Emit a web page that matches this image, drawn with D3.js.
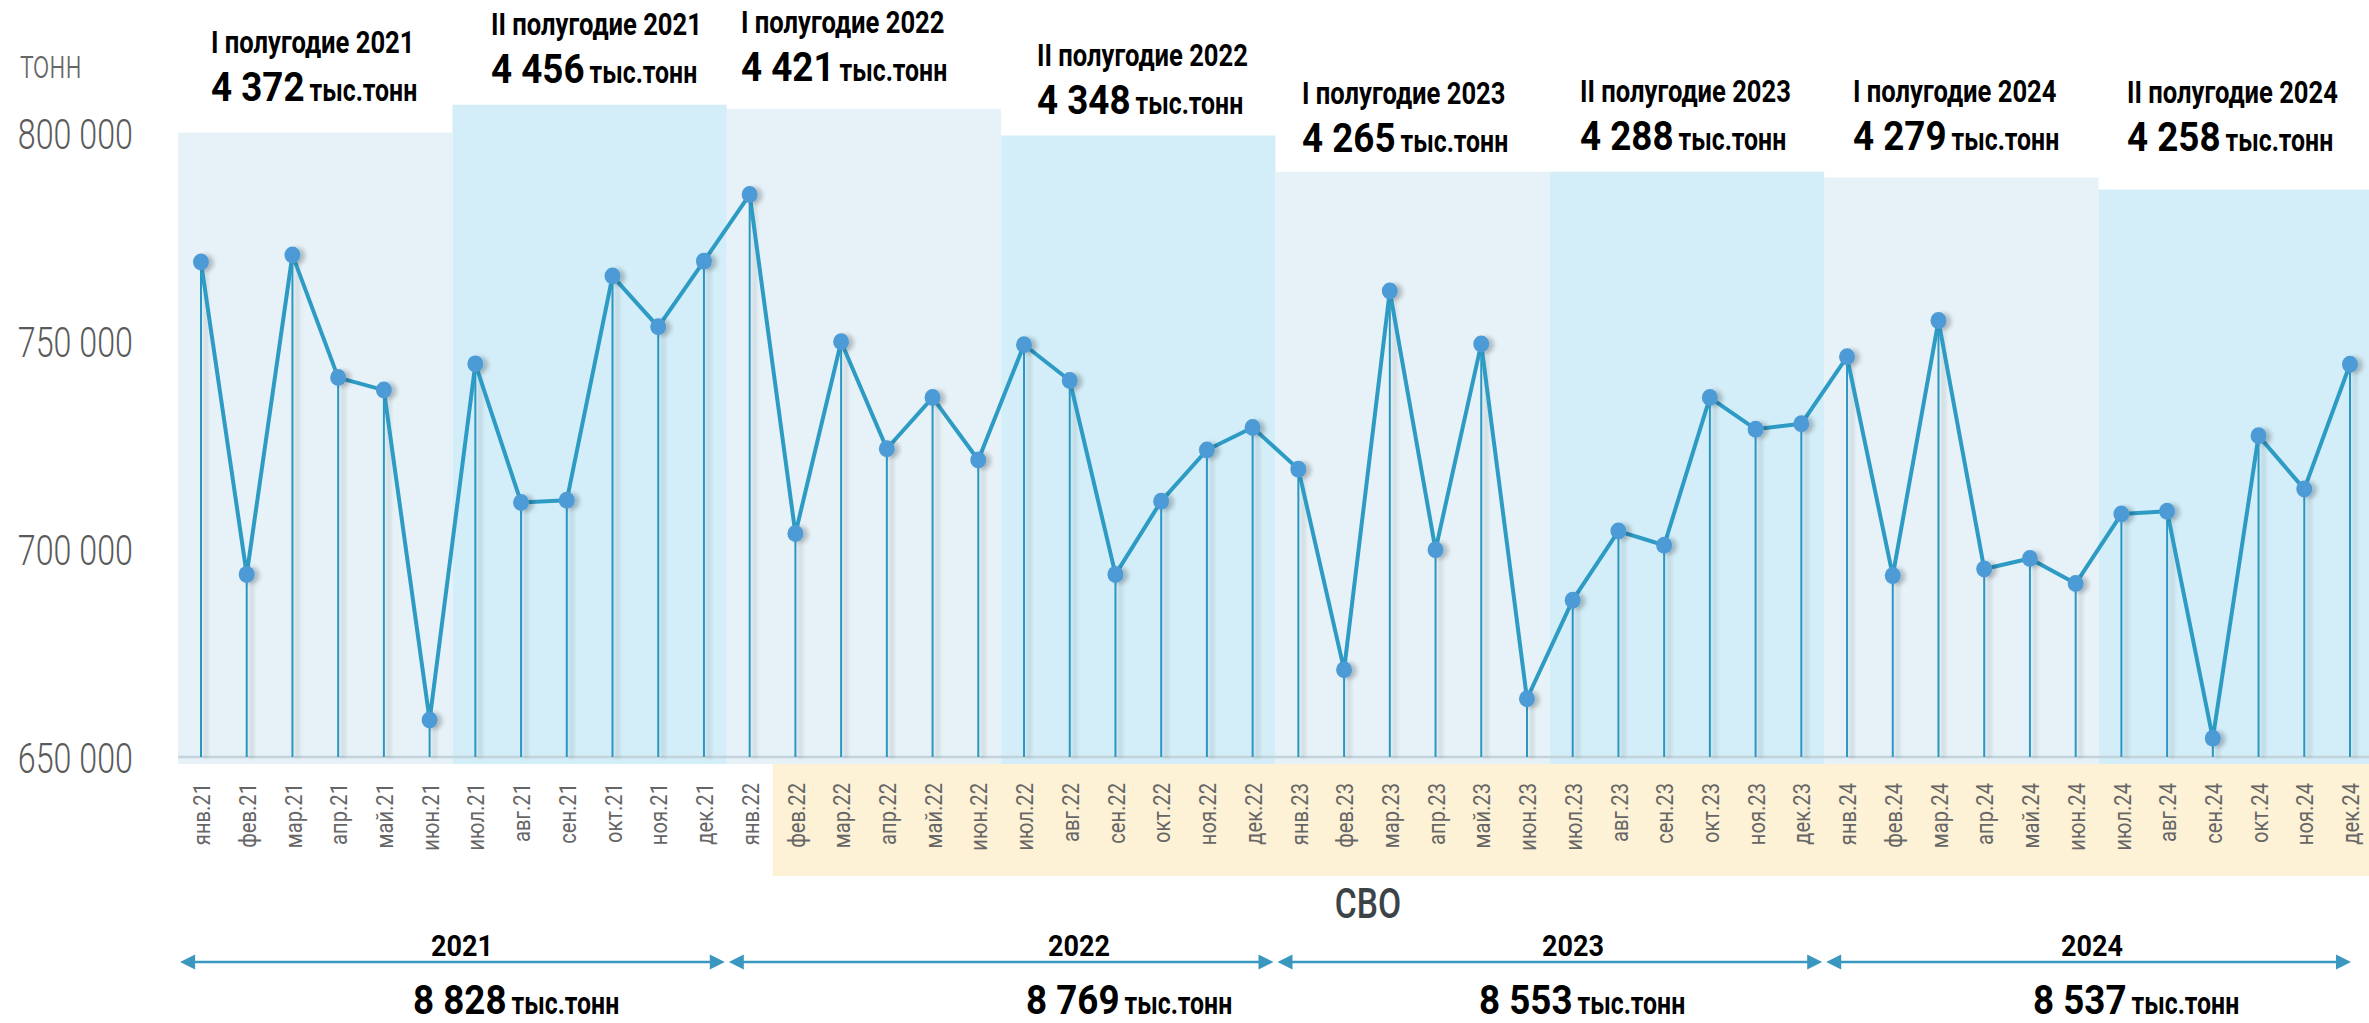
<!DOCTYPE html>
<html><head><meta charset="utf-8">
<script src="https://cdn.jsdelivr.net/npm/d3@7"></script>
<style>html,body{margin:0;padding:0;background:#fff;overflow:hidden}</style>
</head><body>
<svg id="chart" width="2369" height="1023"></svg>
<script>
// ---------------- DATA ----------------
const months = [
  "янв.21","фев.21","мар.21","апр.21","май.21","июн.21","июл.21","авг.21","сен.21","окт.21","ноя.21","дек.21",
  "янв.22","фев.22","мар.22","апр.22","май.22","июн.22","июл.22","авг.22","сен.22","окт.22","ноя.22","дек.22",
  "янв.23","фев.23","мар.23","апр.23","май.23","июн.23","июл.23","авг.23","сен.23","окт.23","ноя.23","дек.23",
  "янв.24","фев.24","мар.24","апр.24","май.24","июн.24","июл.24","авг.24","сен.24","окт.24","ноя.24","дек.24"
];
const values = [
  769000, 693900, 770700, 741200, 738200, 658900, 744500, 711200, 711700, 765600, 753400, 769200,
  785200, 703700, 749800, 724100, 736400, 721400, 749100, 740500, 693900, 711500, 723800, 729200,
  719200, 671000, 762000, 699800, 749300, 664000, 687700, 704300, 700900, 736400, 728800, 730100,
  746200, 693600, 754900, 695200, 697700, 691700, 708400, 709100, 654500, 727200, 714400, 744400
];
const halfLabels = ["I полугодие 2021","II полугодие 2021","I полугодие 2022","II полугодие 2022",
                    "I полугодие 2023","II полугодие 2023","I полугодие 2024","II полугодие 2024"];
const halfTotals = [4372, 4456, 4421, 4348, 4265, 4288, 4279, 4258];
const halfLevels = [800100, 806800, 805800, 799400, 790700, 790700, 789300, 786400];
const years = ["2021","2022","2023","2024"];
const yearTotals = [8828, 8769, 8553, 8537];
const yTicks = [650000, 700000, 750000, 800000];
const unitLabel = "тонн";
const unitSuffix = "тыс.тонн";
const svoLabel = "СВО";
const svoStart = "фев.22";

// ---------------- LAYOUT ----------------
const W = 2369, H = 1023;
const svg = d3.select("#chart");
const locale = d3.formatLocale({decimal: ",", thousands: "\u00a0", grouping: [3], currency: ["", ""]});
const fmt = locale.format(",d");

const x = d3.scalePoint().domain(months).range([201, 2350]);
const step = x.step();
const y = d3.scaleLinear().domain([650000, 800000]).range([757, 133]);
const bandBottom = 764;
const FONT = "Roboto, 'Liberation Sans', sans-serif";

const defs = svg.append("defs");
const sh = defs.append("filter").attr("id", "sh").attr("filterUnits", "userSpaceOnUse")
  .attr("x", 0).attr("y", 0).attr("width", W).attr("height", H);
sh.append("feGaussianBlur").attr("in", "SourceAlpha").attr("stdDeviation", 2.2).attr("result", "b");
sh.append("feOffset").attr("in", "b").attr("dx", 5).attr("dy", 1).attr("result", "o");
sh.append("feComponentTransfer").attr("in", "o").attr("result", "o2")
  .append("feFuncA").attr("type", "linear").attr("slope", 0.22);
const mg = sh.append("feMerge");
mg.append("feMergeNode").attr("in", "o2");
mg.append("feMergeNode").attr("in", "SourceGraphic");

// half-year bands
const halves = halfLabels.map((lab, i) => ({
  lab, total: halfTotals[i], level: halfLevels[i],
  first: months[i * 6], last: months[i * 6 + 5]
}));
svg.append("g").selectAll("rect").data(halves).join("rect")
  .attr("x", d => x(d.first) - step / 2)
  .attr("width", d => Math.min(x(d.last) + step / 2, W) - (x(d.first) - step / 2))
  .attr("y", d => y(d.level))
  .attr("height", d => bandBottom - y(d.level))
  .attr("fill", (d, i) => i % 2 ? "#d3eef9" : "#e6f2f8");

// SVO band
const svoX = x(svoStart) - step / 2;
svg.append("rect").attr("x", svoX).attr("y", bandBottom).attr("width", W - svoX).attr("height", 112)
  .attr("fill", "#fdf2d5");

// baseline
svg.append("line").attr("x1", x(months[0]) - step / 2).attr("x2", W)
  .attr("y1", y(650000)).attr("y2", y(650000))
  .attr("stroke", "#c3d3da").attr("stroke-width", 2.5);

// stems
svg.append("g").attr("filter", "url(#sh)").selectAll("line").data(values).join("line")
  .attr("x1", (d, i) => x(months[i])).attr("x2", (d, i) => x(months[i]))
  .attr("y1", d => y(d)).attr("y2", y(650000))
  .attr("stroke", "#2c97c3").attr("stroke-width", 2);

// line
svg.append("path").datum(values)
  .attr("d", d3.line().x((d, i) => x(months[i])).y(d => y(d)))
  .attr("fill", "none").attr("stroke", "#2e9bc5").attr("stroke-width", 4).attr("stroke-linejoin", "round");

// points
svg.append("g").attr("filter", "url(#sh)").selectAll("ellipse").data(values).join("ellipse")
  .attr("cx", (d, i) => x(months[i])).attr("cy", d => y(d))
  .attr("rx", 8).attr("ry", 8.5)
  .attr("fill", "#4d9bd6");

// y axis
const yAxis = svg.append("g").attr("transform", "translate(133,0)")
  .call(d3.axisLeft(y).tickValues(yTicks).tickSize(0).tickFormat(fmt));
yAxis.select(".domain").remove();
yAxis.selectAll("text")
  .attr("x", 0).attr("dy", "0.36em")
  .attr("transform", "scale(0.75,1)")
  .attr("font-family", FONT)
  .attr("font-weight", 300).attr("font-size", 43).attr("fill", "#5a5a5a");

svg.append("text").attr("transform", "translate(20,78) scale(0.72,1)")
  .attr("font-family", FONT).attr("font-weight", 300)
  .attr("font-size", 40).attr("fill", "#666").text(unitLabel);

// x axis labels
const xAxis = svg.append("g").attr("transform", "translate(0,783)")
  .call(d3.axisBottom(x).tickSize(0));
xAxis.select(".domain").remove();
xAxis.selectAll("text")
  .attr("transform", "rotate(-90) scale(0.84,1)")
  .attr("x", 0).attr("y", 0).attr("dy", "0.36em")
  .attr("text-anchor", "end")
  .attr("font-family", FONT)
  .attr("font-size", 24).attr("fill", "#666");

// SVO label
svg.append("text").attr("transform", "translate(1368,918) scale(0.8,1)")
  .attr("text-anchor", "middle")
  .attr("font-family", FONT).attr("font-weight", 500)
  .attr("font-size", 42).attr("fill", "#3b4347").text(svoLabel);

// helper: condensed number + unit (two texts with their own condensing)
function numUnit(g, tx, ty, num) {
  const sN = 0.92, sU = 0.8;
  const t1 = g.append("text").attr("transform", `translate(${tx},${ty}) scale(${sN},1)`)
    .attr("font-family", FONT).attr("font-weight", 700).attr("fill", "#000")
    .attr("font-size", 40).text(fmt(num));
  const w = t1.node().getComputedTextLength() * sN;
  g.append("text").attr("transform", `translate(${tx + w + 5},${ty}) scale(${sU},1)`)
    .attr("font-family", FONT).attr("font-weight", 700).attr("fill", "#000")
    .attr("font-size", 31).text(unitSuffix);
}

// half-year titles
const titleX = [211, 491, 741, 1037, 1302, 1580, 1853, 2127];
const titleY = [53, 35, 33, 66, 104, 102, 102, 103];
const topG = svg.append("g");
halves.forEach((d, i) => {
  topG.append("text").attr("transform", `translate(${titleX[i]},${titleY[i]}) scale(0.8,1)`)
    .attr("font-family", FONT).attr("font-weight", 700)
    .attr("font-size", 32).attr("fill", "#000").text(d.lab);
  numUnit(topG, titleX[i], titleY[i] + 48, d.total);
});

// year arrows
const yearG = svg.append("g");
const arrowY = 962;
const yearLabelX = [462, 1079, 1573, 2092];
const totalX = [413, 1026, 1479, 2033];
years.forEach((yr, i) => {
  const x0 = x(months[i * 12]) - step / 2 + 2;
  const x1 = Math.min(x(months[i * 12 + 11]) + step / 2 - 2, x(months[months.length - 1]) + 1);
  yearG.append("line").attr("x1", x0 + 10).attr("x2", x1 - 10).attr("y1", arrowY).attr("y2", arrowY)
    .attr("stroke", "#3a97c0").attr("stroke-width", 2.5);
  yearG.append("path").attr("d", `M${x0},${arrowY} L${x0 + 15},${arrowY - 7.5} L${x0 + 15},${arrowY + 7.5} Z`).attr("fill", "#3a97c0");
  yearG.append("path").attr("d", `M${x1},${arrowY} L${x1 - 15},${arrowY - 7.5} L${x1 - 15},${arrowY + 7.5} Z`).attr("fill", "#3a97c0");
  yearG.append("text").attr("transform", `translate(${yearLabelX[i]},956) scale(0.9,1)`)
    .attr("text-anchor", "middle")
    .attr("font-family", FONT).attr("font-weight", 700)
    .attr("font-size", 30).attr("fill", "#000").text(yr);
  numUnit(yearG, totalX[i], 1014, yearTotals[i]);
});
</script>
</body></html>
